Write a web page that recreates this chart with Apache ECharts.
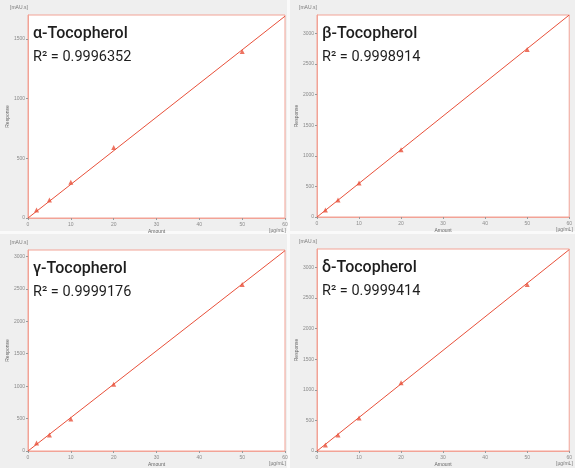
<!DOCTYPE html>
<html><head><meta charset="utf-8">
<script src="https://cdn.jsdelivr.net/npm/echarts@6/dist/echarts.min.js"></script>
<style>html,body{margin:0;padding:0;background:#efefef}#c{width:575px;height:468px}</style>
</head><body><div id="c"></div>
<script>
// Data
const names = ["α-Tocopherol", "β-Tocopherol", "γ-Tocopherol", "δ-Tocopherol"];
const r2 = ["0.9996352", "0.9998914", "0.9999176", "0.9999414"];
const amounts = [2, 5, 10, 20, 50];
const alphaResp = [67, 150, 300, 590, 1395];
const betaResp = [115, 279, 557, 1098, 2738];
const gammaResp = [123, 246, 492, 1030, 2569];
const deltaResp = [98, 262, 541, 1115, 2721];
const fitX = [0, 60];
const alphaFit = [0, 1690];
const betaFit = [0, 3300];
const gammaFit = [0, 3090];
const deltaFit = [0, 3290];
const yMax = [1700, 3300, 3100, 3300];
const xMin = 0, xMax = 60, xStep = 10, yStep = 500;

const resp = [alphaResp, betaResp, gammaResp, deltaResp];
const fits = [alphaFit, betaFit, gammaFit, deltaFit];
const boxes = [
  {left: 28, top: 15, width: 257, height: 203},
  {left: 317, top: 15, width: 255, height: 202},
  {left: 28, top: 250, width: 257, height: 201},
  {left: 317, top: 249, width: 255, height: 202}
];
const red = '#e8503a', border = '#f2a396', lab = '#8a8a8a';
const chart = echarts.init(document.getElementById('c'), null, {renderer: 'canvas'});
const grid = [], xAxis = [], yAxis = [], series = [], title = [], graphic = [];
graphic.push({type:'rect', shape:{x:287, y:0, width:3, height:468}, style:{fill:'#fafafa'}, z:0});
graphic.push({type:'rect', shape:{x:0, y:231, width:575, height:3}, style:{fill:'#fafafa'}, z:0});
const fmt = v => String(v);
boxes.forEach((b, i) => {
  grid.push(Object.assign({show: true, backgroundColor: '#ffffff', borderColor: border, borderWidth: 1}, b));
  xAxis.push({type: 'value', gridIndex: i, min: xMin, max: xMax, interval: xStep,
    axisLine: {show: true, lineStyle: {color: border}}, axisTick: {show: true, length: 2, lineStyle: {color: '#999'}},
    splitLine: {show: false}, axisLabel: {fontSize: 5, color: lab, margin: 4, formatter: fmt},
    name: 'Amount', nameLocation: 'middle', nameGap: 11, nameTextStyle: {fontSize: 5, color: '#666'}});
  yAxis.push({type: 'value', gridIndex: i, min: 0, max: yMax[i], interval: yStep,
    axisLine: {show: true, lineStyle: {color: border}}, axisTick: {show: true, length: 2, lineStyle: {color: '#999'}},
    splitLine: {show: false}, axisLabel: {fontSize: 5, color: lab, margin: 3, showMaxLabel: false, formatter: fmt},
    name: 'Response', nameLocation: 'middle', nameGap: 18, nameTextStyle: {fontSize: 5, color: '#666'}});
  series.push({type: 'line', xAxisIndex: i, yAxisIndex: i, data: fitX.map((x, k) => [x, fits[i][k]]),
    showSymbol: false, lineStyle: {color: red, width: 1}, silent: true, z: 2});
  series.push({type: 'scatter', xAxisIndex: i, yAxisIndex: i, data: amounts.map((x, k) => [x, resp[i][k]]),
    symbol: 'triangle', symbolSize: 5, itemStyle: {color: red}, z: 3});
  title.push({text: names[i], left: b.left + 5, top: b.top + 11, padding: 0,
    textStyle: {fontFamily: 'Roboto', fontSize: 16, fontWeight: 500, color: '#1e1e1e'}});
  title.push({text: 'R² = ' + r2[i], left: b.left + 5, top: b.top + 35, padding: 0,
    textStyle: {fontFamily: 'Roboto', fontSize: 14.5, fontWeight: 400, color: '#1e1e1e'}});
  graphic.push({type: 'text', left: b.left - 18, top: b.top - 10, style: {text: '[mAU.s]', fontSize: 5, fill: '#777'}});
  graphic.push({type: 'text', left: b.left + b.width - 16, top: b.top + b.height + 10, style: {text: '[µg/mL]', fontSize: 5, fill: '#777'}});
});
chart.setOption({backgroundColor: '#efefef', animation: false, title, grid, xAxis, yAxis, series, graphic});
</script></body></html>
